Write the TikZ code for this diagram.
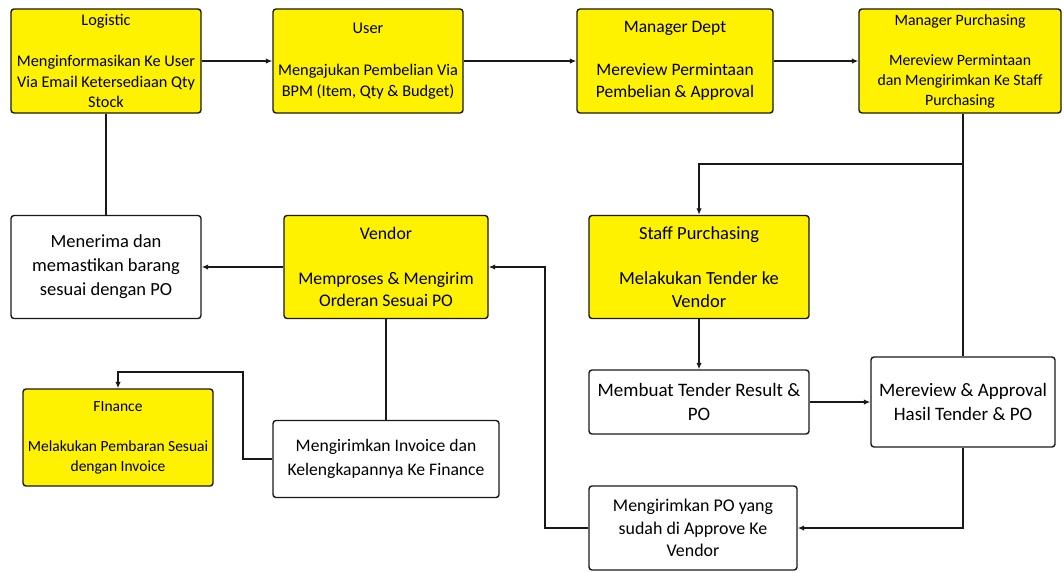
\documentclass[tikz,border=0pt]{standalone}
\usepackage{fontspec}
\setmainfont{Carlito}
\usetikzlibrary{arrows.meta}
\begin{document}
\begin{tikzpicture}[x=1pt,y=-1pt,
  box/.style={draw=black!90, line width=1.4pt, rounded corners=3pt, align=center, inner sep=0pt, anchor=center},
  ybox/.style={box, fill=yellow},
  wbox/.style={box, fill=white},
  conn/.style={draw=black!90, line width=1.4pt},
  arr/.style={conn, -{Latex[length=6.5pt,width=5.5pt]}}
]
\useasboundingbox (0,0) rectangle (1064,571);
\fill[white] (0,0) rectangle (1064,571);

\node[ybox, minimum width=190pt, minimum height=104pt, font=\fontsize{16.3}{20.5}\selectfont] (log) at (106,61)
  {Logistic\\[20.5pt]Menginformasikan Ke User\\Via Email Ketersediaan Qty\\Stock};
\node[ybox, minimum width=190pt, minimum height=104pt, font=\fontsize{16.3}{21}\selectfont] (user) at (368,61)
  {User\\[21pt]Mengajukan Pembelian Via\\BPM (Item, Qty \& Budget)};
\node[ybox, minimum width=196pt, minimum height=104pt, font=\fontsize{17.5}{21.5}\selectfont] (mdept) at (675,61)
  {Manager Dept\\[21.5pt]Mereview Permintaan\\Pembelian \& Approval};
\node[ybox, minimum width=202pt, minimum height=104pt, font=\fontsize{15.8}{20}\selectfont] (mpur) at (960,61)
  {Manager Purchasing\\[20pt]Mereview Permintaan\\dan Mengirimkan Ke Staff\\Purchasing};

\node[wbox, minimum width=190pt, minimum height=103pt, font=\fontsize{18.5}{24}\selectfont] (terima) at (106,267)
  {Menerima dan\\memastikan barang\\sesuai dengan PO};
\node[ybox, minimum width=204pt, minimum height=103pt, font=\fontsize{17.7}{22.5}\selectfont] (vendor) at (386,267)
  {Vendor\\[22.5pt]Memproses \& Mengirim\\Orderan Sesuai PO};
\node[ybox, minimum width=220pt, minimum height=103pt, font=\fontsize{18.5}{22.5}\selectfont] (sp) at (699,267)
  {Staff Purchasing\\[22.5pt]Melakukan Tender ke\\Vendor};

\node[wbox, minimum width=220pt, minimum height=64pt, font=\fontsize{19}{24}\selectfont] (buat) at (699,402)
  {Membuat Tender Result \&\\PO};
\node[wbox, minimum width=184pt, minimum height=90pt, font=\fontsize{19}{24}\selectfont] (review) at (963,402)
  {Mereview \& Approval\\Hasil Tender \& PO};

\node[ybox, minimum width=190pt, minimum height=97pt, font=\fontsize{15.5}{20}\selectfont] (fin) at (118,437.5)
  {FInance\\[20pt]Melakukan Pembaran Sesuai\\dengan Invoice};
\node[wbox, minimum width=226pt, minimum height=77pt, font=\fontsize{17.6}{23.5}\selectfont] (inv) at (386,459)
  {Mengirimkan Invoice dan\\Kelengkapannya Ke Finance};
\node[wbox, minimum width=208pt, minimum height=84pt, font=\fontsize{17.9}{22.5}\selectfont] (kirim) at (693,528)
  {Mengirimkan PO yang\\sudah di Approve Ke\\Vendor};

\coordinate (br) at (963,164);
\coordinate (c1) at (545,528);
\coordinate (c2) at (243,372);
\coordinate (c3) at (118,372);

\draw[arr] (log.east) -- (user.west);
\draw[arr] (user.east) -- (mdept.west);
\draw[arr] (mdept.east) -- (mpur.west);
\draw[conn] (mpur.south -| br) -- (br);
\draw[arr] (br) -- (br -| sp.north) -- (sp.north);
\draw[conn] (br) -- (review.north);
\draw[conn] (log.south) -- (terima.north);
\draw[arr] (vendor.west) -- (terima.east);
\draw[arr] (sp.south) -- (buat.north);
\draw[arr] (buat.east) -- (buat.east -| review.west);
\draw[arr] (review.south) -- (review.south |- kirim.east) -- (kirim.east);
\draw[arr] (kirim.west) -- (c1) -- (c1 |- vendor.east) -- (vendor.east);
\draw[conn] (vendor.south) -- (vendor.south |- inv.north);
\draw[arr] (inv.west) -- (inv.west -| c2) -- (c2) -- (c3) -- (fin.north);
\end{tikzpicture}
\end{document}
